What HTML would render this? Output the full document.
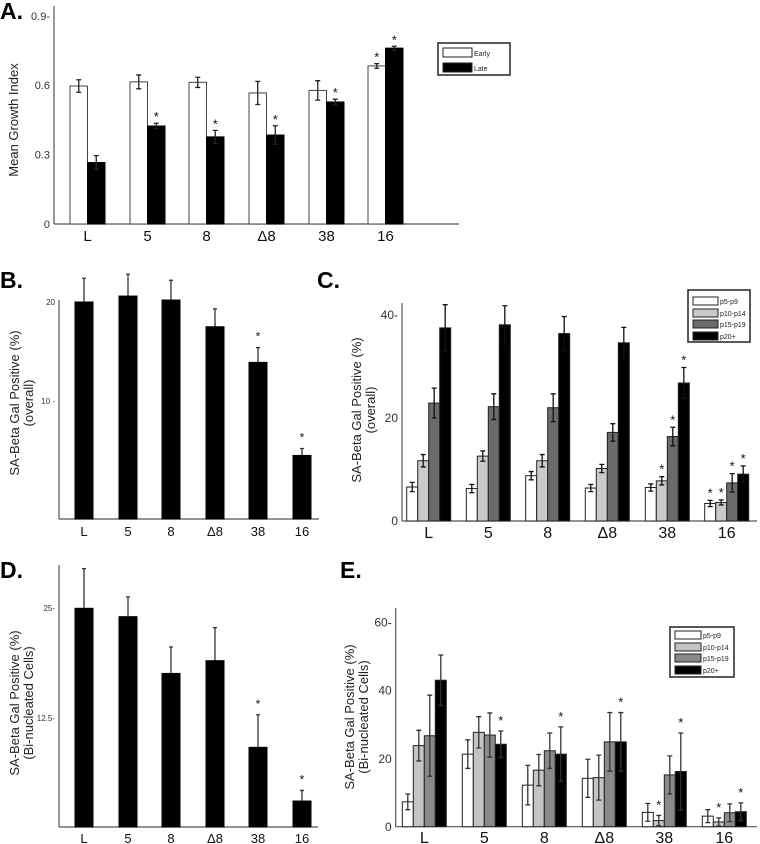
<!DOCTYPE html>
<html><head><meta charset="utf-8"><style>
html,body{margin:0;padding:0;background:#fff;}
svg{display:block;font-family:"Liberation Sans",sans-serif;}
</style></head><body>
<svg id="fig" width="760" height="844" viewBox="0 0 760 844">
<text x="0" y="19" font-size="23" font-weight="bold">A.</text>
<text x="0" y="288" font-size="23" font-weight="bold">B.</text>
<text x="317" y="288" font-size="23" font-weight="bold">C.</text>
<text x="0" y="578" font-size="23" font-weight="bold">D.</text>
<text x="340" y="578" font-size="23" font-weight="bold">E.</text>
<text transform="translate(18,120) rotate(-90)" text-anchor="middle" font-size="13" fill="#222">Mean Growth Index</text>
<text transform="translate(19,403) rotate(-90)" text-anchor="middle" font-size="13" fill="#222">SA-Beta Gal Positive (%)</text>
<text transform="translate(33,403) rotate(-90)" text-anchor="middle" font-size="13" fill="#222">(overall)</text>
<text transform="translate(361,410) rotate(-90)" text-anchor="middle" font-size="13" fill="#222">SA-Beta Gal Positive (%)</text>
<text transform="translate(375,410) rotate(-90)" text-anchor="middle" font-size="13" fill="#222">(overall)</text>
<text transform="translate(19,703) rotate(-90)" text-anchor="middle" font-size="13" fill="#222">SA-Beta Gal Positive (%)</text>
<text transform="translate(33,703) rotate(-90)" text-anchor="middle" font-size="13" fill="#222">(Bi-nucleated Cells)</text>
<text transform="translate(354,717) rotate(-90)" text-anchor="middle" font-size="13" fill="#222">SA-Beta Gal Positive (%)</text>
<text transform="translate(368,717) rotate(-90)" text-anchor="middle" font-size="13" fill="#222">(Bi-nucleated Cells)</text>
</svg>
<script>
// ---- shared categories ----
const categories = ["L","5","8","\u03948","38","16"];
// ---- Panel A ----
const aEarly = [0.597,0.615,0.613,0.567,0.578,0.684];
const aEarlyErr = [0.027,0.03,0.022,0.05,0.042,0.01];
const aLate = [0.266,0.424,0.377,0.385,0.528,0.761];
const aLateErr = [0.03,0.012,0.028,0.04,0.012,0.008];
const aEarlyStar = [false,false,false,false,false,true];
const aLateStar = [false,true,true,true,true,true];
const aTicks = [0,0.3,0.6,0.9];
const aTickLabels = ["0","0.3","0.6","0.9-"];
// ---- Panel B ----
const bValues = [20.0,20.6,20.2,17.5,13.9,4.5];
const bErr = [2.4,2.2,2.0,1.8,1.5,0.7];
const bStar = [false,false,false,false,true,true];
const bTicks = [10,20];
// ---- Panel C ----
const cSeriesNames = ["p5-p9","p10-p14","p15-p19","p20+"];
const cP5 = [6.6,6.3,8.8,6.4,6.5,3.4];
const cP10 = [11.7,12.6,11.7,10.2,7.8,3.6];
const cP15 = [22.9,22.2,22.0,17.2,16.4,7.4];
const cP20 = [37.5,38.1,36.4,34.6,26.8,9.1];
const cP5Err = [0.9,0.8,0.8,0.7,0.7,0.6];
const cP10Err = [1.2,1.0,1.2,0.8,0.8,0.5];
const cP15Err = [2.9,2.5,2.7,1.7,1.8,1.8];
const cP20Err = [4.5,3.7,3.3,3.0,3.0,1.6];
const cP5Star = [false,false,false,false,false,true];
const cP10Star = [false,false,false,false,true,true];
const cP15Star = [false,false,false,false,true,true];
const cP20Star = [false,false,false,false,true,true];
const cTicks = [0,20,40];
// ---- Panel D ----
const dValues = [25.0,24.05,17.6,19.05,9.2,3.1];
const dErr = [4.5,2.25,3.0,3.75,3.7,1.2];
const dStar = [false,false,false,false,true,true];
const dTicks = [12.5,25];
const dTickLabels = ["12.5-","25-"];
// ---- Panel E ----
const eSeriesNames = ["p5-p9","p10-p14","p15-p19","p20+"];
const eP5 = [7.3,21.3,12.2,14.2,4.2,3.1];
const eP10 = [23.8,27.7,16.6,14.4,1.8,1.4];
const eP15 = [26.7,26.9,22.3,24.9,15.2,4.1];
const eP20 = [43.0,24.2,21.3,24.9,16.2,4.4];
const eP5Err = [2.3,4.2,5.8,5.6,2.6,1.9];
const eP10Err = [4.5,4.6,4.6,6.6,1.5,1.2];
const eP15Err = [11.9,6.5,5.2,8.6,5.6,2.6];
const eP20Err = [7.4,3.9,8.0,8.6,11.3,2.6];
const eP5Star = [false,false,false,false,false,false];
const eP10Star = [false,false,false,false,true,true];
const eP15Star = [false,false,false,false,false,false];
const eP20Star = [false,true,true,true,true,true];
const eTicks = [0,20,40,60];

const NS="http://www.w3.org/2000/svg";
const svg=document.getElementById('fig');
function mk(tag,attrs){const e=document.createElementNS(NS,tag);for(const k in attrs)e.setAttribute(k,attrs[k]);svg.appendChild(e);return e;}
function lin(d0,d1,r0,r1){return v=>r0+(v-d0)*(r1-r0)/(d1-d0);}

function axes(p,x0,x1,yTop,base,ticks,labels,y,tfs,axisName){
  const ya=mk('line',{x1:x0,y1:yTop,x2:x0,y2:base,stroke:'#555','stroke-width':1.2});
  
  
  const xa=mk('line',{x1:x0,y1:base,x2:x1,y2:base,stroke:'#555','stroke-width':1.2});
  
  
  ticks.forEach((t,i)=>{
    const tx=mk('text',{x:x0-4,y:y(t)+tfs*0.35,'text-anchor':'end','font-size':tfs,fill:'#333'});
    tx.textContent=labels[i];
    
    
  });
}
function xLabels(centers,ly,fs,axisName){
  categories.forEach((c,i)=>{
    const t=mk('text',{x:centers[i],y:ly,'text-anchor':'middle','font-size':fs,fill:'#111'});
    t.textContent=c;
    
    
  });
}
function bar(x,w,y0,yv,fill,stroke,name){
  const r=mk('rect',{x:x,y:Math.min(y0,yv),width:w,height:Math.abs(y0-yv),fill:fill,stroke:stroke,'stroke-width':1});
  
  
}
function err(cx,yl,yh,col,name,cap){
  const g=mk('path',{d:`M${cx},${yl}V${yh}M${cx-cap},${yh}H${cx+cap}M${cx-cap},${yl}H${cx+cap}`,stroke:col,'stroke-width':1.3,fill:'none'});
  
  
}
function upErr(cx,yv,yh,col,name){
  const g=mk('path',{d:`M${cx},${yv}V${yh}M${cx-2},${yh}H${cx+2}`,stroke:col,'stroke-width':1.3,fill:'none'});
  
  
}
function star(cx,yy,fs,name){
  const s=mk('text',{x:cx,y:yy,'text-anchor':'middle','font-size':fs,fill:'#111'});
  s.textContent='*';
  
  
}
function legend(x,y,w,h,rowYs,sw,names,fills,fs,name){
  const r=mk('rect',{x:x,y:y,width:w,height:h,fill:'#fff',stroke:'#222','stroke-width':1.5});
  
  
  names.forEach((n,i)=>{
    const s=mk('rect',{x:x+5,y:rowYs[i],width:sw[0],height:sw[1],fill:fills[i],stroke:'#222','stroke-width':1});
    
    
    const t=mk('text',{x:x+7+sw[0],y:rowYs[i]+sw[1]-1,'font-size':fs,fill:'#222'});
    t.textContent=n;
    
    
  });
}

// Panel A
(function(){
  const y=lin(0,0.9,224,16);
  axes('a',54,459,6,224,aTicks,aTickLabels,y,11,'a');
  const bw=17.5, starts=[70,130,189,249,309,368];
  const centers=[];
  categories.forEach((c,i)=>{
    const x=starts[i];
    centers.push(x+bw);
    bar(x,bw,224,y(aEarly[i]),'#fff','#444','a-bar-early-'+c);
    bar(x+bw,bw,224,y(aLate[i]),'#000','#000','a-bar-late-'+c);
    err(x+bw/2,y(aEarly[i]-aEarlyErr[i]),y(aEarly[i]+aEarlyErr[i]),'#222','a-err-early',2.5);
    err(x+bw*1.5,y(aLate[i]-aLateErr[i]),y(aLate[i]+aLateErr[i]),'#222','a-err-late',2.5);
    if(aEarlyStar[i]) star(x+bw/2,y(aEarly[i]+aEarlyErr[i])-2,13,'a-star-early');
    if(aLateStar[i]) star(x+bw*1.5,y(aLate[i]+aLateErr[i])-2,13,'a-star-late');
  });
  xLabels(centers,241,15,'a');
  legend(438,43,72,32,[48,63],[29,9],['Early','Late'],['#fff','#000'],7,'a-legend');
})();

// Panel B
(function(){
  const y=lin(10,20,401,302);
  axes('b',59,319,300,519,bTicks,["10 -","20"],y,8,'b');
  const bw=18, starts=[75,119,162,206,249,293];
  const centers=[];
  categories.forEach((c,i)=>{
    const x=starts[i], cx=x+bw/2;
    centers.push(cx);
    upErr(cx,y(bValues[i]),y(bValues[i]+bErr[i]),'#333','b-err');
    bar(x,bw,519,y(bValues[i]),'#000','#000','b-bar-'+c);
    if(bStar[i]) star(cx,y(bValues[i]+bErr[i])-7,12,'b-star');
  });
  xLabels(centers,536,13,'b');
})();

// Panel C
(function(){
  const y=lin(0,40,521,315);
  axes('c',402,757,303,521,cTicks,["0","20","40-"],y,12,'c');
  const bw=11, starts=[406.7,466.3,525.7,585.3,645.3,704.7];
  const series=[cP5,cP10,cP15,cP20], errs=[cP5Err,cP10Err,cP15Err,cP20Err], stars=[cP5Star,cP10Star,cP15Star,cP20Star];
  const fills=['#fff','#cacaca','#6b6b6b','#000'];
  const centers=[];
  categories.forEach((c,i)=>{
    centers.push(starts[i]+2*bw);
    series.forEach((s,j)=>{
      const x=starts[i]+j*bw, cx=x+bw/2;
      bar(x,bw,521,y(s[i]),fills[j],'#222','c-bar-'+cSeriesNames[j]+'-'+c);
      err(cx,y(s[i]-errs[j][i]),y(s[i]+errs[j][i]),'#111','c-err',2.5);
      if(stars[j][i]) star(cx,y(s[i]+errs[j][i])-3,13,'c-star');
    });
  });
  xLabels(centers,538,16,'c');
  legend(688,290,62,52,[297,309,320,332],[25,8],cSeriesNames,fills,7,'c-legend');
})();

// Panel D
(function(){
  const y=lin(12.5,25,718.3,608.3);
  axes('d',59,318,565,827,dTicks,dTickLabels,y,8,'d');
  const bw=18, starts=[75,119,162,206,249,293];
  const centers=[];
  categories.forEach((c,i)=>{
    const x=starts[i], cx=x+bw/2;
    centers.push(cx);
    upErr(cx,y(dValues[i]),y(dValues[i]+dErr[i]),'#333','d-err');
    bar(x,bw,827,y(dValues[i]),'#000','#000','d-bar-'+c);
    if(dStar[i]) star(cx,y(dValues[i]+dErr[i])-7,12,'d-star');
  });
  xLabels(centers,843,13,'d');
})();

// Panel E
(function(){
  const y=lin(0,60,826.7,622.3);
  axes('e',395.7,757,608,826.7,eTicks,["0","20","40","60-"],y,12,'e');
  const bw=11, starts=[402.3,462.3,522.3,582.3,642.3,702.3];
  const series=[eP5,eP10,eP15,eP20], errs=[eP5Err,eP10Err,eP15Err,eP20Err], stars=[eP5Star,eP10Star,eP15Star,eP20Star];
  const fills=['#fff','#c4c4c4','#8a8a8a','#000'];
  const centers=[];
  categories.forEach((c,i)=>{
    centers.push(starts[i]+2*bw);
    series.forEach((s,j)=>{
      const x=starts[i]+j*bw, cx=x+bw/2;
      bar(x,bw,826.7,y(s[i]),fills[j],'#222','e-bar-'+eSeriesNames[j]+'-'+c);
      err(cx,y(Math.max(0,s[i]-errs[j][i])),y(s[i]+errs[j][i]),'#333','e-err',2.5);
      if(stars[j][i]) star(cx,y(s[i]+errs[j][i])-6,13,'e-star');
    });
  });
  xLabels(centers,843,16,'e');
  legend(670,627,64,50,[631,643,654,666],[26,8],eSeriesNames,fills,7,'e-legend');
})();
</script>
</body></html>
